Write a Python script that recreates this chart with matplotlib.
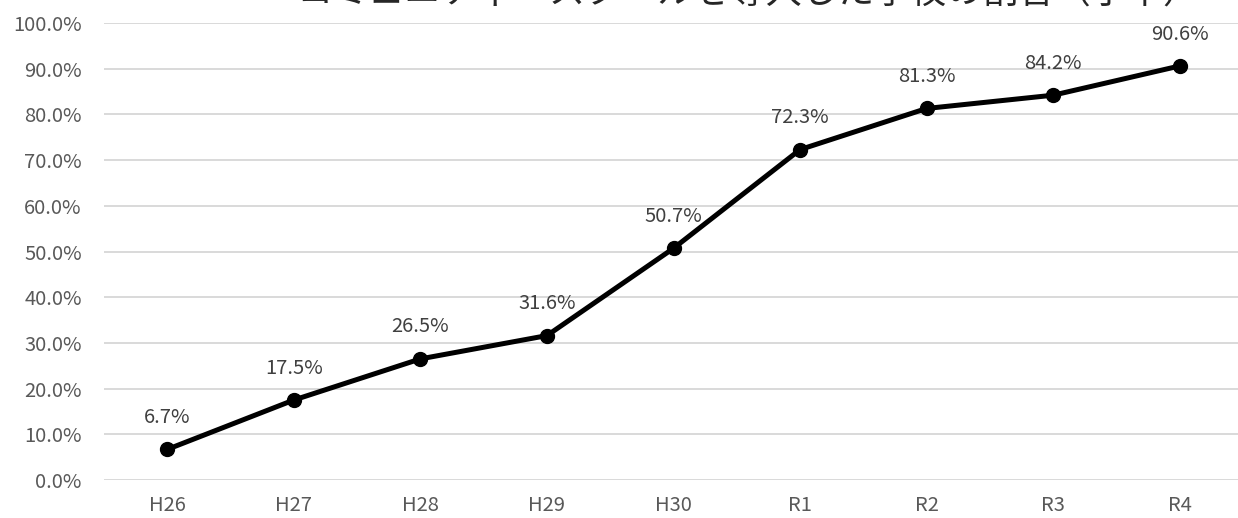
import matplotlib
matplotlib.use("Agg")
import matplotlib.pyplot as plt
from matplotlib.ticker import FuncFormatter, MultipleLocator

plt.rcParams['font.family'] = ['Noto Sans CJK JP', 'DejaVu Sans']

title = "コミュニティ・スクールを導入した学校の割合（小中）"
categories = ["H26", "H27", "H28", "H29", "H30", "R1", "R2", "R3", "R4"]
values = [6.7, 17.5, 26.5, 31.6, 50.7, 72.3, 81.3, 84.2, 90.6]

fig = plt.figure(figsize=(12.38, 5.18), dpi=100)
ax = fig.add_axes([104/1238, 38/518, (1243-104)/1238, (480-23)/518])

x = list(range(len(categories)))
ax.plot(x, values, color='black', lw=3.6, marker='o', markersize=10, zorder=3,
        solid_capstyle='round')
for xi, v in zip(x, values):
    ax.annotate(f"{v:.1f}%", (xi, v), xytext=(0, 23), textcoords='offset points',
                ha='center', va='center', fontsize=14.5, color='#404040')

ax.set_xlim(-0.5, len(categories) - 0.5)
ax.set_ylim(0, 100)
ax.yaxis.set_major_locator(MultipleLocator(10))
ax.yaxis.set_major_formatter(FuncFormatter(lambda v, p: f"{v:.1f}%"))
ax.set_xticks(x)
ax.set_xticklabels(categories)
ax.grid(axis='y', color='#d9d9d9', lw=1.4)
ax.set_axisbelow(True)
for s in ax.spines.values():
    s.set_visible(False)
ax.tick_params(axis='both', length=0, labelsize=14.5, labelcolor='#595959')
ax.tick_params(axis='y', pad=16)
ax.tick_params(axis='x', pad=11)

fig.text(748/1238, 1 + 6/518, title, ha='center', va='center', fontsize=26, color='#262626')

fig.savefig("out.png", dpi=100)
